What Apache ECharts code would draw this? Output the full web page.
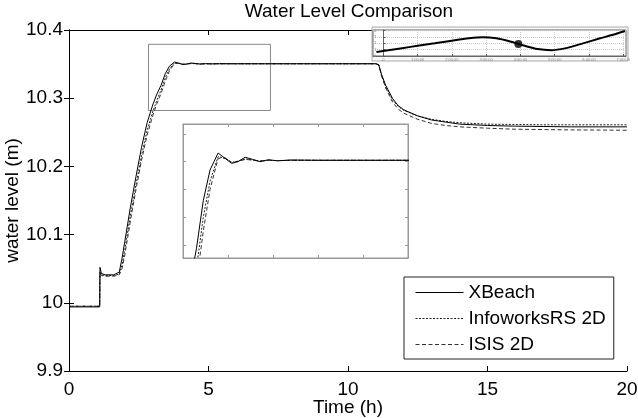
<!DOCTYPE html>
<html>
<head>
<meta charset="utf-8">
<script src="https://cdn.jsdelivr.net/npm/echarts@6/dist/echarts.min.js"></script>
<style>
  html, body { margin: 0; padding: 0; background: #fff; }
  #chart { width: 638px; height: 418px; }
</style>
</head>
<body>
<div id="chart"></div>
<script>
// time in hours
const time = [0, 1.1, 1.11, 1.16, 1.3, 1.6, 1.8, 1.9, 2.0, 2.2, 2.4, 2.6, 2.8, 3.0, 3.15, 3.3, 3.45, 3.6, 3.78, 3.95,
  4.08, 4.22, 4.38, 4.55, 4.71, 4.9, 5.1, 5.4, 6, 7, 8, 9, 10, 11, 11.1, 11.2, 11.35, 11.6, 11.8, 12,
  12.5, 13, 13.5, 14, 15, 16, 17, 18, 19, 20]

const xbeach = [9.994, 9.994, 10.052, 10.043, 10.041, 10.041, 10.045, 10.065, 10.09, 10.14, 10.185, 10.228, 10.264, 10.29, 10.306, 10.319, 10.336, 10.347, 10.3531, 10.351,
  10.3494, 10.350, 10.3516, 10.3508, 10.350, 10.3507, 10.3503, 10.3506, 10.3505, 10.3505, 10.3505, 10.3505, 10.3505, 10.3505, 10.349, 10.335, 10.319, 10.2995, 10.289, 10.283,
  10.274, 10.268, 10.265, 10.262, 10.260, 10.259, 10.2585, 10.258, 10.258, 10.258]

const infoworks = [9.995, 9.995, 10.046, 10.041, 10.040, 10.040, 10.042, 10.055, 10.078, 10.128, 10.173, 10.216, 10.253, 10.280, 10.297, 10.312, 10.330, 10.343, 10.3518, 10.3512,
  10.3497, 10.3502, 10.3510, 10.3506, 10.3502, 10.3505, 10.3504, 10.3505, 10.3505, 10.3505, 10.3505, 10.3505, 10.3505, 10.3505, 10.349, 10.334, 10.317, 10.297, 10.288, 10.282,
  10.274, 10.269, 10.266, 10.264, 10.262, 10.2615, 10.261, 10.261, 10.261, 10.261]

const isis = [9.995, 9.995, 10.044, 10.040, 10.039, 10.039, 10.041, 10.050, 10.070, 10.120, 10.166, 10.209, 10.246, 10.274, 10.292, 10.307, 10.325, 10.340, 10.3512, 10.3513,
  10.3498, 10.3501, 10.3508, 10.3506, 10.3503, 10.3505, 10.3504, 10.3505, 10.3505, 10.3505, 10.3505, 10.3505, 10.3505, 10.3505, 10.349, 10.333, 10.315, 10.294, 10.284, 10.278,
  10.269, 10.263, 10.260, 10.258, 10.256, 10.2545, 10.254, 10.2535, 10.2533, 10.253]

const seriesNames = ['XBeach', 'InfoworksRS 2D', 'ISIS 2D']

// zoom box drawn on the main axes
const zoomBox = [[2.85, 10.379], [7.22, 10.282]]

// inset axes
const insetYTicks = [10.32, 10.33, 10.34, 10.35, 10.36]

// small boundary-condition panel, top right
const miniX = [-0.2, 0.5, 1, 1.5, 2, 2.5, 2.9, 3.3, 3.7, 4.1, 4.5, 4.9, 5.3, 5.8, 6.3, 6.7, 7.05]
const miniY = [0.62, 1.2, 1.6, 2.0, 2.42, 2.8, 2.97, 2.8, 2.3, 1.65, 1.1, 0.92, 1.2, 1.95, 2.75, 3.35, 3.95]
const miniDot = [3.94, 1.91]
const miniXTicks = [0, 1, 2, 3, 4, 5, 6, 7]
const miniXLabels = ['0', '1:00:00', '2:00:00', '3:00:00', '4:00:00', '5:00:00', '6:00:00', '7:00:00']

const FONT = 'Liberation Sans, Arial, sans-serif'

const pairs = vals => time.map((t, i) => [t, vals[i]])

const styles = [
  {color: '#000', width: 1, type: 'solid'},
  {color: '#222', width: 1, type: [2, 1.5]},
  {color: '#333', width: 1, type: [4, 2.5]}
]
const values = [xbeach, infoworks, isis]

const tickAxis = (extra) => Object.assign({
  type: 'value',
  axisLine: {lineStyle: {color: '#000', width: 1}},
  axisTick: {inside: true, length: 5, lineStyle: {color: '#000'}},
  axisLabel: {show: false},
  splitLine: {show: false}
}, extra)

const chart = echarts.init(document.getElementById('chart'), null, {renderer: 'canvas'})

const series = []
values.forEach((v, i) => {
  const s = {
    name: seriesNames[i],
    type: 'line',
    xAxisIndex: 0,
    yAxisIndex: 0,
    data: pairs(v),
    symbol: 'none',
    lineStyle: styles[i],
    itemStyle: {color: styles[i].color},
    z: 3 - i
  }
  if (i === 0) {
    s.markArea = {
      silent: true,
      itemStyle: {color: 'rgba(0,0,0,0)', borderColor: '#888', borderWidth: 1},
      data: [[{coord: zoomBox[0]}, {coord: zoomBox[1]}]]
    }
  }
  series.push(s)
})
values.forEach((v, i) => {
  series.push({
    name: seriesNames[i],
    type: 'line',
    xAxisIndex: 2,
    yAxisIndex: 2,
    data: pairs(v),
    symbol: 'none',
    clip: true,
    lineStyle: styles[i],
    itemStyle: {color: styles[i].color},
    z: 6 - i
  })
})
series.push({
  type: 'line',
  xAxisIndex: 4,
  yAxisIndex: 4,
  data: miniX.map((x, i) => [x, miniY[i]]),
  symbol: 'none',
  smooth: 0.3,
  lineStyle: {color: '#000', width: 2},
  z: 12
})
series.push({
  type: 'scatter',
  xAxisIndex: 4,
  yAxisIndex: 4,
  data: [miniDot],
  symbolSize: 8,
  itemStyle: {color: '#000'},
  z: 13
})

chart.setOption({
  animation: false,
  backgroundColor: '#fff',
  textStyle: {fontFamily: FONT},
  title: {
    text: 'Water Level Comparison',
    left: 349,
    top: 2,
    textAlign: 'center',
    padding: 0,
    textStyle: {fontSize: 19, fontWeight: 'normal', color: '#000', fontFamily: FONT}
  },
  legend: {
    data: seriesNames,
    orient: 'vertical',
    left: 404,
    top: 277,
    itemWidth: 48,
    itemHeight: 14,
    itemGap: 7,
    padding: [6, 8, 5, 11],
    borderColor: '#222',
    borderWidth: 1,
    backgroundColor: '#fff',
    itemStyle: {opacity: 0},
    lineStyle: {width: 1},
    textStyle: {fontSize: 19, color: '#000', fontFamily: FONT},
    z: 20
  },
  graphic: [{
    type: 'rect',
    shape: {x: 372, y: 27, width: 256, height: 34},
    style: {fill: '#f7f7f7', stroke: '#aaa', lineWidth: 1},
    z: 9
  }],
  grid: [
    {left: 69, right: 11, top: 30, bottom: 47, outerBoundsMode: 'none', containLabel: false},
    {left: 183, top: 124, width: 225, height: 134, show: true, backgroundColor: '#fff', borderColor: '#999', z: 4, outerBoundsMode: 'none', containLabel: false},
    {left: 373, top: 30, width: 253, height: 26, show: true, backgroundColor: '#fff', borderColor: '#666', z: 10, outerBoundsMode: 'none', containLabel: false}
  ],
  xAxis: [
    tickAxis({
      gridIndex: 0, min: 0, max: 20, interval: 5,
      axisLabel: {show: true, fontSize: 19, color: '#000', margin: 9, fontFamily: FONT},
      name: 'Time (h)', nameLocation: 'middle', nameGap: 27, nameMoveOverlap: false,
      nameTextStyle: {fontSize: 19, color: '#000', fontFamily: FONT, verticalAlign: 'top'}
    }),
    tickAxis({gridIndex: 0, position: 'top', min: 0, max: 20, interval: 5}),
    tickAxis({
      gridIndex: 1, min: 3, max: 8, interval: 1, z: 5,
      axisLine: {lineStyle: {color: '#999'}},
      axisTick: {inside: true, length: 3, lineStyle: {color: '#999'}}
    }),
    tickAxis({
      gridIndex: 1, position: 'top', min: 3, max: 8, interval: 1, z: 5,
      axisLine: {lineStyle: {color: '#999'}},
      axisTick: {inside: true, length: 3, lineStyle: {color: '#999'}}
    }),
    tickAxis({
      gridIndex: 2, min: -0.3, max: 7.08, z: 11,
      axisLine: {lineStyle: {color: '#666'}},
      axisTick: {inside: true, length: 2, customValues: miniXTicks, lineStyle: {color: '#555'}},
      axisLabel: {show: true, customValues: miniXTicks, fontSize: 4, color: '#888', margin: 2,
        formatter: v => miniXLabels[miniXTicks.indexOf(v)] || ''},
      splitLine: {show: true, lineStyle: {color: '#ccc', type: 'dotted'}}
    })
  ],
  yAxis: [
    tickAxis({
      gridIndex: 0, min: 9.9, max: 10.4, interval: 0.1,
      axisLabel: {show: true, fontSize: 19, color: '#000', margin: 6, fontFamily: FONT},
      name: 'water level (m)', nameLocation: 'middle', nameGap: 47, nameMoveOverlap: false,
      nameTextStyle: {fontSize: 19, color: '#000', fontFamily: FONT}
    }),
    tickAxis({gridIndex: 0, position: 'right', min: 9.9, max: 10.4, interval: 0.1}),
    tickAxis({
      gridIndex: 1, min: 10.3155, max: 10.3635, z: 5,
      axisLine: {lineStyle: {color: '#999'}},
      axisTick: {inside: true, length: 3, customValues: insetYTicks, lineStyle: {color: '#999'}}
    }),
    tickAxis({
      gridIndex: 1, position: 'right', min: 10.3155, max: 10.3635, z: 5,
      axisLine: {lineStyle: {color: '#999'}},
      axisTick: {inside: true, length: 3, customValues: insetYTicks, lineStyle: {color: '#999'}}
    }),
    tickAxis({
      gridIndex: 2, min: 0, max: 4.1, interval: 1, z: 11,
      axisLine: {lineStyle: {color: '#666'}},
      axisTick: {inside: true, length: 2, lineStyle: {color: '#555'}},
      axisLabel: {show: true, inside: true, fontSize: 4, color: '#888', margin: 1},
      splitLine: {show: true, lineStyle: {color: '#ccc', type: 'dotted'}}
    })
  ],
  series: series
})

window.addEventListener('resize', () => chart.resize())
</script>
</body>
</html>
